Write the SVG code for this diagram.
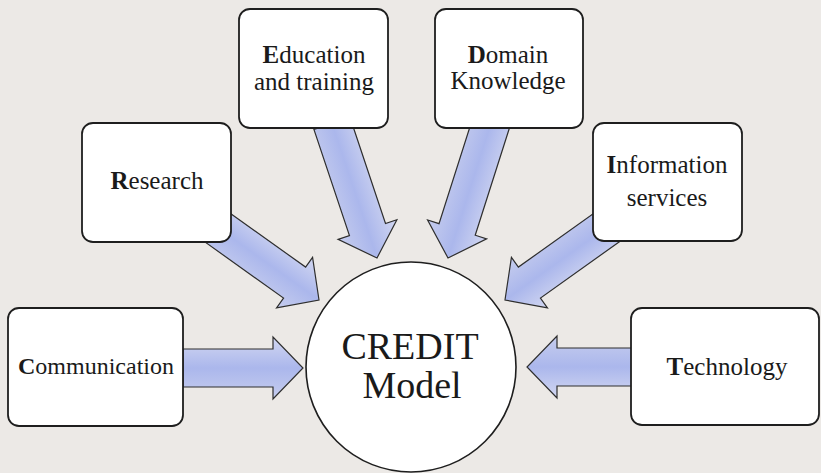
<svg xmlns="http://www.w3.org/2000/svg" width="821" height="473" viewBox="0 0 821 473">
  <style>
    .box { fill: #ffffff; stroke: #1e1e1e; stroke-width: 1.8; }
    .hub { fill: #ffffff; stroke: #1e1e1e; stroke-width: 1.6; }
    .arrow { fill: url(#arrowFill); stroke: #2e2e2e; stroke-width: 1.2; stroke-linejoin: miter; }
    .label { font-family: "Liberation Serif", "Times New Roman", serif; font-size: 25px; fill: #1a1a1a; text-anchor: middle; }
    .label .init { font-weight: bold; }
    .hubtext { font-family: "Liberation Serif", "Times New Roman", serif; font-size: 38px; fill: #1a1a1a; text-anchor: middle; }
  </style>
  <defs>
    <linearGradient id="arrowFill" x1="0" y1="0" x2="0" y2="1">
      <stop offset="0" stop-color="#d2d7f1"/>
      <stop offset="0.5" stop-color="#abb7ec"/>
      <stop offset="1" stop-color="#c6cdee"/>
    </linearGradient>
  </defs>

  <rect width="821" height="473" fill="#ece9e6"/>

  <!-- block arrows pointing at the hub; each shape has its tip at the origin -->
  <g id="connectors">
    <path class="arrow" transform="translate(303,368)" d="M-120,-19 L-30,-19 L-30,-31 L0,0 L-30,31 L-30,19 L-120,19 Z"/>
    <path class="arrow" transform="translate(527,367) rotate(180)" d="M-106,-19 L-30,-19 L-30,-31 L0,0 L-30,31 L-30,19 L-106,19 Z"/>
    <path class="arrow" transform="translate(377,258) rotate(71.5)" d="M-142,-19 L-30,-19 L-30,-31 L0,0 L-30,31 L-30,19 L-142,19 Z"/>
    <path class="arrow" transform="translate(448,258) rotate(107.7)" d="M-142,-19 L-30,-19 L-30,-31 L0,0 L-30,31 L-30,19 L-142,19 Z"/>
    <path class="arrow" transform="translate(319,300) rotate(35.5)" d="M-130,-19 L-30,-19 L-30,-31 L0,0 L-30,31 L-30,19 L-130,19 Z"/>
    <path class="arrow" transform="translate(505,300) rotate(144.5)" d="M-130,-19 L-30,-19 L-30,-31 L0,0 L-30,31 L-30,19 L-130,19 Z"/>
  </g>

  <g id="hub">
    <circle class="hub" cx="411" cy="367" r="105"/>
    <text class="hubtext" x="410" y="359">CREDIT</text>
    <text class="hubtext" x="412" y="398">Model</text>
  </g>

  <g id="communication">
    <rect class="box" x="8" y="308" width="175" height="118" rx="11"/>
    <text class="label" x="96" y="374" style="font-size:24px"><tspan class="init">C</tspan>ommunication</text>
  </g>

  <g id="research">
    <rect class="box" x="82" y="123" width="149" height="119" rx="11"/>
    <text class="label" x="157" y="189"><tspan class="init">R</tspan>esearch</text>
  </g>

  <g id="education">
    <rect class="box" x="239" y="9" width="149" height="119" rx="11"/>
    <text class="label" x="314" y="63"><tspan class="init">E</tspan>ducation</text>
    <text class="label" x="314" y="90">and training</text>
  </g>

  <g id="domain">
    <rect class="box" x="435" y="9" width="148" height="119" rx="11"/>
    <text class="label" x="508" y="63"><tspan class="init">D</tspan>omain</text>
    <text class="label" x="508" y="89">Knowledge</text>
  </g>

  <g id="information">
    <rect class="box" x="593" y="123" width="149" height="118" rx="11"/>
    <text class="label" x="667" y="173"><tspan class="init">I</tspan>nformation</text>
    <text class="label" x="667" y="206">services</text>
  </g>

  <g id="technology">
    <rect class="box" x="631" y="308" width="188" height="117" rx="11"/>
    <text class="label" x="727" y="375"><tspan class="init">T</tspan>echnology</text>
  </g>
</svg>
